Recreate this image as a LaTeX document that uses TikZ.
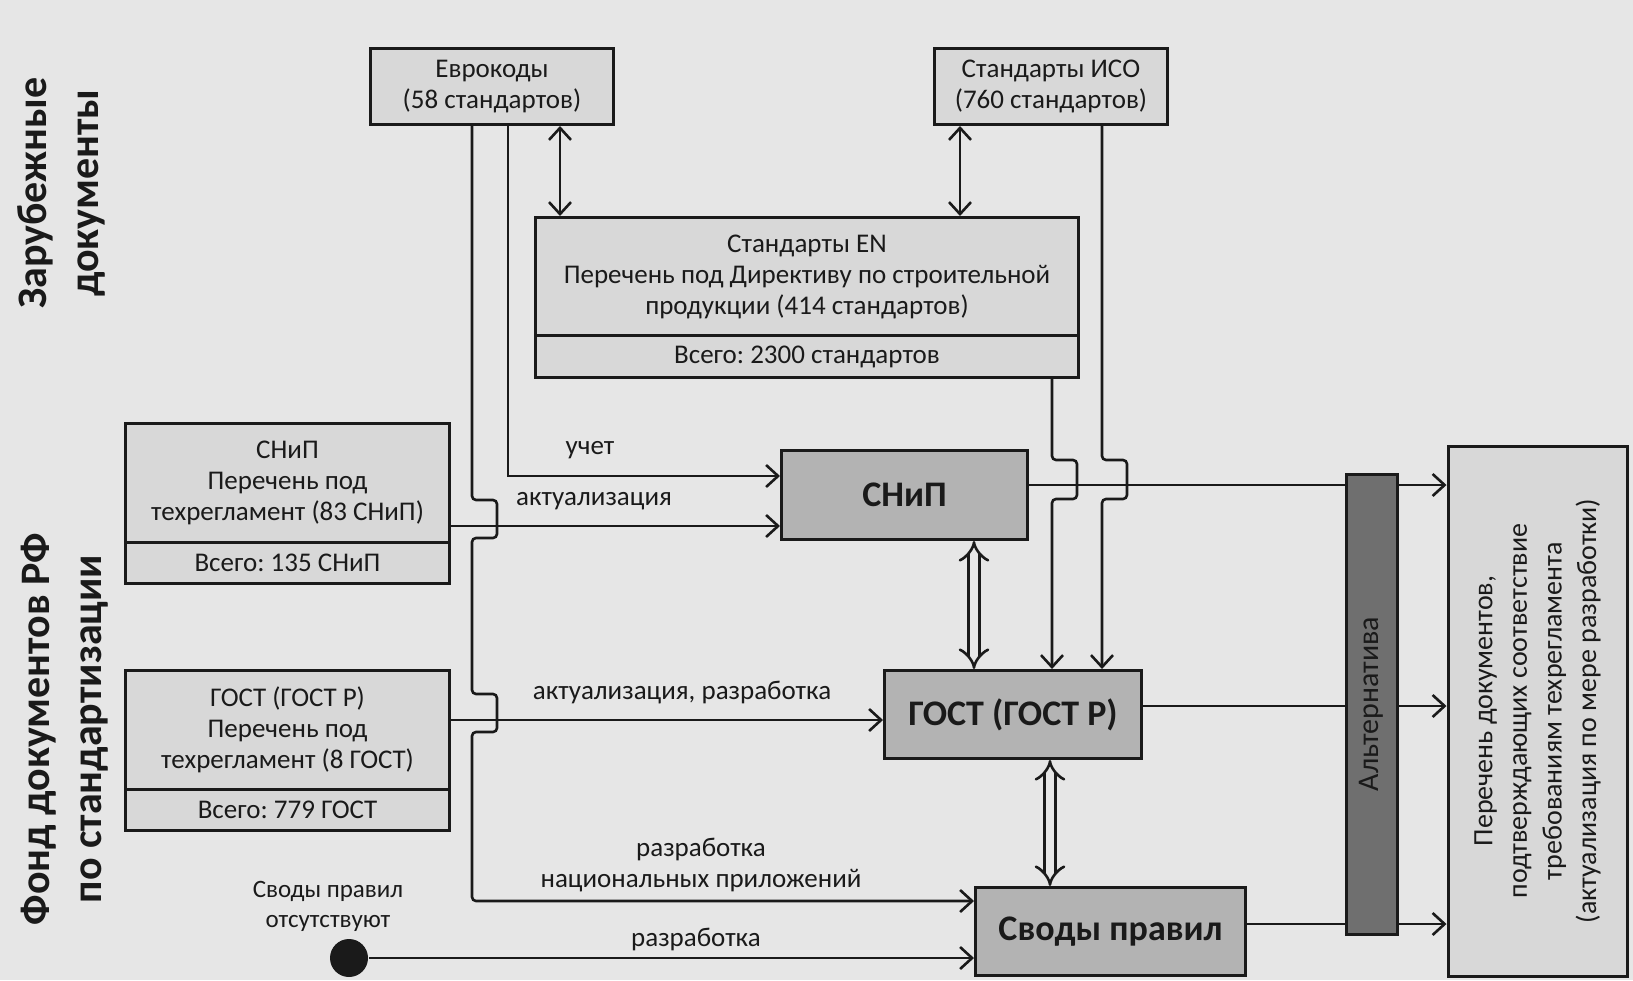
\documentclass[tikz,border=0pt]{standalone}
\usepackage{fontspec}
\setmainfont{Carlito}
\usetikzlibrary{arrows.meta,shapes.multipart}
\frenchspacing

\definecolor{paper}{HTML}{E6E6E6}
\definecolor{boxfill}{HTML}{D8D8D8}
\definecolor{midfill}{HTML}{B3B3B3}
\definecolor{barfill}{HTML}{6F6F6F}
\definecolor{ink}{HTML}{1A1A1A}

\newcommand{\cellbox}[3]{\begin{minipage}[c][#2][c]{#1}\centering #3\end{minipage}}

\tikzstyle{box} = [draw=ink, fill=boxfill, line width=1.5pt, rectangle, inner sep=0pt,
    text=ink, font=\fontsize{13.5}{15.5}\selectfont]
\tikzstyle{block} = [box, align=center]
\tikzstyle{listblock} = [box, rectangle split, rectangle split parts=2, anchor=north west]
\tikzstyle{mainblock} = [block, fill=midfill, anchor=north west,
    font=\fontsize{18}{21}\selectfont\bfseries]
\tikzstyle{lbl} = [inner sep=0pt, text=ink, font=\fontsize{13.5}{15.5}\selectfont]
\tikzstyle{twin} = [draw=ink, line width=1.3pt, double=paper, double distance=4pt,
    {Implies}-{Implies}]

\begin{document}
\begin{tikzpicture}[x=0.5pt, y=-0.5pt, line width=1.3pt,
    >={Straight Barb[length=6pt,width=11pt]}]
  \fill[paper] (0,0) rectangle (1633,980);
  \useasboundingbox (0,0) rectangle (1633,980);

  % titles
  \node (foreign) [rotate=90, align=center, text=ink,
    font=\fontsize{21}{26}\selectfont\bfseries] at (61,193) {Зарубежные\\документы};
  \node (fund) [rotate=90, align=center, text=ink,
    font=\fontsize{21}{26}\selectfont\bfseries] at (65,729) {Фонд документов РФ\\по стандартизации};

  % foreign documents
  \node (evro) [block, anchor=north west, minimum width=121.5pt, minimum height=38pt]
    at (369,47) {Еврокоды\\(58 стандартов)};
  \node (iso) [block, anchor=north west, minimum width=116.5pt, minimum height=38pt]
    at (933,47) {Стандарты ИСО\\(760 стандартов)};
  \node (en) [listblock] at (534,216)
    {\cellbox{271.5pt}{57.5pt}{Стандарты EN\\Перечень под Директиву по строительной\\продукции (414 стандартов)}%
     \nodepart{two}\cellbox{271.5pt}{19.5pt}{Всего: 2300 стандартов}};

  % national documents
  \node (snipL) [listblock] at (124,422)
    {\cellbox{162pt}{58pt}{СНиП\\Перечень под\\техрегламент (83 СНиП)}%
     \nodepart{two}\cellbox{162pt}{19pt}{Всего: 135 СНиП}};
  \node (gostL) [listblock] at (124,669)
    {\cellbox{162pt}{58pt}{ГОСТ (ГОСТ Р)\\Перечень под\\техрегламент (8 ГОСТ)}%
     \nodepart{two}\cellbox{162pt}{19pt}{Всего: 779 ГОСТ}};
  \node (nosp) [lbl, align=center, font=\fontsize{12.5}{15}\selectfont] at (328,906)
    {Своды правил\\отсутствуют};
  \node (dot) [circle, fill=ink, minimum size=19pt, inner sep=0pt] at (349,958) {};

  % target documents
  \node (snipC) [mainblock, minimum width=123pt, minimum height=44.5pt] at (780,449) {СНиП};
  \node (gostC) [mainblock, minimum width=128.5pt, minimum height=44pt] at (883,669) {ГОСТ (ГОСТ Р)};
  \node (svody) [mainblock, minimum width=135pt, minimum height=44pt] at (974,886) {Своды правил};
  \node (list) [block, rotate=90, minimum width=265pt, minimum height=89.5pt,
    font=\fontsize{14}{17.3}\selectfont] at (1537.5,711)
    {Перечень документов,\\подтверждающих соответствие\\требованиям техрегламента\\(актуализация по мере разработки)};

  % labels
  \node (luch) [lbl] at (590,450) {учет};
  \node (lakt1) [lbl] at (594,501) {актуализация};
  \node (lakt2) [lbl] at (682,693) {актуализация, разработка};
  \node (lnat) [lbl, align=center] at (701,865) {разработка\\национальных приложений};
  \node (lrazr) [lbl] at (696,939) {разработка};

  \coordinate (xeu1) at (472,0);
  \coordinate (xeu2) at (508,0);
  \coordinate (xeu3) at (560,0);
  \coordinate (xiso1) at (960,0);
  \coordinate (xen) at (1052,0);
  \coordinate (xiso2) at (1102,0);
  \coordinate (xdbl1) at (974,0);
  \coordinate (xdbl2) at (1050,0);
  \coordinate (yuch) at (0,476);
  \coordinate (yakt1) at (0,526);
  \coordinate (yakt2) at (0,720);
  \coordinate (ynat) at (0,901);
  \coordinate (yout1) at (0,485);
  \coordinate (yout2) at (0,706);
  \coordinate (yout3) at (0,924);

  \draw [ink, ->, rounded corners=2pt] (evro.south -| xeu1) -- (472,500) -- (497,500) -- (497,538)
    -- (472,538) -- (472,694) -- (497,694) -- (497,732) -- (472,732) |- (svody.west |- ynat);
  \draw [ink, ->] (evro.south -| xeu2) |- (snipC.west |- yuch);
  \draw [ink, <->] (evro.south -| xeu3) -- (en.north -| xeu3);
  \draw [ink, <->] (iso.south -| xiso1) -- (en.north -| xiso1);
  \draw [ink, ->] (snipL.east |- yakt1) -- (snipC.west |- yakt1);
  \draw [ink, ->] (gostL.east |- yakt2) -- (gostC.west |- yakt2);
  \draw [ink, ->] (dot) -- (svody.west |- dot);
  \draw [ink, ->, rounded corners=2pt] (en.south -| xen) -- (1052,460) -- (1077,460) -- (1077,499)
    -- (1052,499) -- (gostC.north -| xen);
  \draw [ink, ->, rounded corners=2pt] (iso.south -| xiso2) -- (1102,460) -- (1127,460) -- (1127,499)
    -- (1102,499) -- (gostC.north -| xiso2);
  \draw [twin] (snipC.south -| xdbl1) -- (gostC.north -| xdbl1);
  \draw [twin] (gostC.south -| xdbl2) -- (svody.north -| xdbl2);
  \draw [ink, ->] (snipC.east |- yout1) -- (list.north |- yout1);
  \draw [ink, ->] (gostC.east |- yout2) -- (list.north |- yout2);
  \draw [ink, ->] (svody.east |- yout3) -- (list.north |- yout3);

  \node (alt) [box, fill=barfill, rotate=90, minimum width=230pt, minimum height=25.5pt,
    text=ink, font=\fontsize{15}{18}\selectfont] at (1371.5,704) {Альтернатива};
\end{tikzpicture}
\end{document}
